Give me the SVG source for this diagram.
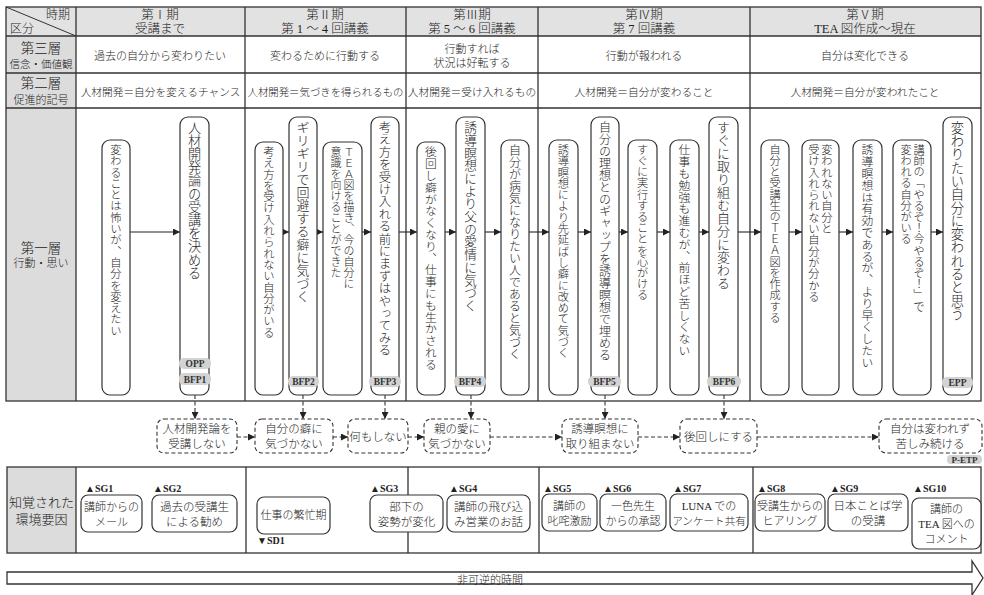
<svg xmlns="http://www.w3.org/2000/svg" width="984" height="595" viewBox="0 0 984 595">
<defs>
<marker id="ah" markerWidth="7" markerHeight="7" refX="7" refY="3.5" orient="auto" markerUnits="userSpaceOnUse"><path d="M0,0 L7,3.5 L0,7 z" fill="#222"/></marker>
<style>
.ln{stroke:#333;stroke-width:1.3;fill:none}
.thin{stroke:#333;stroke-width:1;fill:none}
.t{font-family:"Liberation Serif","Noto Sans CJK JP",serif;fill:#1e1e1e;font-size:11px;font-weight:300}
.c{text-anchor:middle}
.v{writing-mode:vertical-rl;font-family:"Noto Sans CJK JP",sans-serif;fill:#1e1e1e;font-size:11.3px;font-weight:300}
.vb{fill:#fff;stroke:#333;stroke-width:1.2}
.pill{fill:#d3d3d3}
.pt{font-family:"Liberation Serif",serif;font-weight:bold;font-size:9.5px;fill:#333;text-anchor:middle}
.sg{font-family:"Liberation Serif","DejaVu Sans",serif;font-weight:bold;font-size:10px;fill:#222}
.db{fill:#fff;stroke:#333;stroke-width:1.1;stroke-dasharray:4,2.5}
.da{stroke:#333;stroke-width:1.1;fill:none;stroke-dasharray:4,2.5}
.sa{stroke:#222;stroke-width:1.1;fill:none}
</style>
</defs>
<rect width="984" height="595" fill="#fff"/>

<g id="table">
<rect x="6" y="7" width="975" height="29" fill="#e2e2e2"/>
<rect x="6" y="36" width="70" height="365" fill="#dcdcdc"/>
<rect x="6" y="7" width="975" height="394" class="ln"/>
<path class="ln" d="M6,36H981M6,73H981M6,108H981M76,7V401M245,7V401M406,7V401M538,7V401M750,7V401"/>
<path class="thin" d="M6,7L76,36"/>
<text class="t" x="70" y="19" text-anchor="end" style="font-size:12px">時期</text>
<text class="t" x="10" y="33" style="font-size:12px">区分</text>
<text class="t c" x="160" y="19" style="font-size:12.5px">第Ⅰ期</text>
<text class="t c" x="160" y="33" style="font-size:12.5px">受講まで</text>
<text class="t c" x="325" y="19" style="font-size:12.5px">第Ⅱ期</text>
<text class="t c" x="325" y="33" style="font-size:12.5px">第 1 〜 4 回講義</text>
<text class="t c" x="472" y="19" style="font-size:12.5px">第Ⅲ期</text>
<text class="t c" x="472" y="33" style="font-size:12.5px">第 5 〜 6 回講義</text>
<text class="t c" x="644" y="19" style="font-size:12.5px">第Ⅳ期</text>
<text class="t c" x="644" y="33" style="font-size:12.5px">第 7 回講義</text>
<text class="t c" x="865" y="19" style="font-size:12.5px">第Ⅴ期</text>
<text class="t c" x="865" y="33" style="font-size:12.5px">TEA 図作成〜現在</text>
<text class="t c" x="41" y="53" style="font-size:13.5px">第三層</text>
<text class="t c" x="41" y="68" style="font-size:10.5px">信念・価値観</text>
<text class="t c" x="41" y="88" style="font-size:13.5px">第二層</text>
<text class="t c" x="41" y="104" style="font-size:11px">促進的記号</text>
<text class="t c" x="41" y="253" style="font-size:13.5px">第一層</text>
<text class="t c" x="41" y="267" style="font-size:11px">行動・思い</text>
<text class="t c" x="160" y="60">過去の自分から変わりたい</text>
<text class="t c" x="325" y="60">変わるために行動する</text>
<text class="t c" x="472" y="53">行動すれば</text>
<text class="t c" x="472" y="67">状況は好転する</text>
<text class="t c" x="644" y="60">行動が報われる</text>
<text class="t c" x="865" y="60">自分は変化できる</text>
<text class="t c" x="160.5" y="96" style="font-size:10.7px">人材開発＝自分を変えるチャンス</text>
<text class="t c" x="325.5" y="96" style="font-size:10.4px">人材開発＝気づきを得られるもの</text>
<text class="t c" x="472" y="96" style="font-size:10.7px">人材開発＝受け入れるもの</text>
<text class="t c" x="644" y="96" style="font-size:10.7px">人材開発＝自分が変わること</text>
<text class="t c" x="865" y="96" style="font-size:10.7px">人材開発＝自分が変われたこと</text>
</g>

<g id="connectors">
<path class="sa" marker-end="url(#ah)" d="M130,232H180"/>
<path class="sa" marker-end="url(#ah)" d="M283,232H289"/>
<path class="sa" marker-end="url(#ah)" d="M317,232H323"/>
<path class="sa" marker-end="url(#ah)" d="M362,232H371"/>
<path class="sa" marker-end="url(#ah)" d="M399,232H417"/>
<path class="sa" marker-end="url(#ah)" d="M445,232H456"/>
<path class="sa" marker-end="url(#ah)" d="M485,232H501"/>
<path class="sa" marker-end="url(#ah)" d="M529,232H549"/>
<path class="sa" marker-end="url(#ah)" d="M578,232H591"/>
<path class="sa" marker-end="url(#ah)" d="M619,232H628"/>
<path class="sa" marker-end="url(#ah)" d="M657,232H670"/>
<path class="sa" marker-end="url(#ah)" d="M699,232H709"/>
<path class="sa" marker-end="url(#ah)" d="M738,232H761"/>
<path class="sa" marker-end="url(#ah)" d="M789,232H802"/>
<path class="sa" marker-end="url(#ah)" d="M839,232H853"/>
<path class="sa" marker-end="url(#ah)" d="M882,232H893"/>
<path class="sa" marker-end="url(#ah)" d="M931,232H943"/>
<path class="da" marker-end="url(#ah)" d="M195,395V419"/>
<path class="da" marker-end="url(#ah)" d="M303,395V419"/>
<path class="da" marker-end="url(#ah)" d="M385,395V419"/>
<path class="da" marker-end="url(#ah)" d="M471,395V419"/>
<path class="da" marker-end="url(#ah)" d="M605,395V419"/>
<path class="da" marker-end="url(#ah)" d="M724,395V419"/>
<path class="da" marker-end="url(#ah)" d="M237,437H255"/>
<path class="da" marker-end="url(#ah)" d="M333,437H348"/>
<path class="da" marker-end="url(#ah)" d="M408,437H424"/>
<path class="da" marker-end="url(#ah)" d="M490,437H562"/>
<path class="da" marker-end="url(#ah)" d="M638,437H680"/>
<path class="da" marker-end="url(#ah)" d="M757,437H879"/>
</g>

<g id="n1"><rect class="vb" x="102" y="140" width="28" height="255" rx="8"/><text class="v" x="116" y="144">変わることは怖いが、自分を変えたい</text></g>
<g id="n2"><rect class="vb" x="180" y="117" width="29" height="278" rx="8"/><text class="v" x="194.5" y="121" style="font-size:13.2px">人材開発論の受講を決める</text>
<rect class="pill" x="179" y="358" width="32" height="11" rx="5"/><text class="pt" x="195" y="366.5">OPP</text>
<rect class="pill" x="179" y="373" width="32" height="12" rx="5"/><text class="pt" x="195" y="382.5">BFP1</text></g>
<g id="n3"><rect class="vb" x="255" y="142" width="28" height="253" rx="8"/><text class="v" x="269" y="146">考え方を受け入れられない自分がいる</text></g>
<g id="n4"><rect class="vb" x="289" y="117" width="28" height="278" rx="8"/><text class="v" x="303" y="121" style="font-size:13px">ギリギリで回避する癖に気づく</text>
<rect class="pill" x="288" y="376" width="31" height="11" rx="5"/><text class="pt" x="303.5" y="384.5">BFP2</text></g>
<g id="n5"><rect class="vb" x="323" y="142" width="39" height="253" rx="8"/><text class="v" x="349" y="146" style="font-size:11px">ＴＥＡ図を描き、今の自分に</text><text class="v" x="336" y="146" style="font-size:11px">意識を向けることができた</text></g>
<g id="n6"><rect class="vb" x="371" y="117" width="28" height="278" rx="8"/><text class="v" x="385" y="121" style="font-size:12.4px">考え方を受け入れる前にまずはやってみる</text>
<rect class="pill" x="369" y="376" width="32" height="11" rx="5"/><text class="pt" x="385" y="384.5">BFP3</text></g>
<g id="n7"><rect class="vb" x="417" y="142" width="28" height="253" rx="8"/><text class="v" x="431" y="146" style="font-size:11.8px">後回し癖がなくなり、仕事にも生かされる</text></g>
<g id="n8"><rect class="vb" x="456" y="117" width="29" height="278" rx="8"/><text class="v" x="470.5" y="121" style="font-size:12.7px">誘導瞑想により父の愛情に気づく</text>
<rect class="pill" x="454" y="376" width="32" height="11" rx="5"/><text class="pt" x="470" y="384.5">BFP4</text></g>
<g id="n9"><rect class="vb" x="501" y="140" width="28" height="255" rx="8"/><text class="v" x="515" y="144" style="font-size:12px">自分が病気になりたい人であると気づく</text></g>
<g id="n10"><rect class="vb" x="549" y="140" width="29" height="255" rx="8"/><text class="v" x="563.5" y="144">誘導瞑想により先延ばし癖に改めて気づく</text></g>
<g id="n11"><rect class="vb" x="591" y="117" width="28" height="278" rx="8"/><text class="v" x="605" y="121" style="font-size:12px">自分の理想とのギャップを誘導瞑想で埋める</text>
<rect class="pill" x="588" y="376" width="33" height="11" rx="5"/><text class="pt" x="604.5" y="384.5">BFP5</text></g>
<g id="n12"><rect class="vb" x="628" y="140" width="29" height="255" rx="8"/><text class="v" x="642.5" y="144" style="font-size:11.2px">すぐに実行することを心がける</text></g>
<g id="n13"><rect class="vb" x="670" y="140" width="29" height="255" rx="8"/><text class="v" x="684.5" y="144" style="font-size:11.8px">仕事も勉強も進むが、前ほど苦しくない</text></g>
<g id="n14"><rect class="vb" x="709" y="117" width="29" height="278" rx="8"/><text class="v" x="723.5" y="121" style="font-size:13px">すぐに取り組む自分に変わる</text>
<rect class="pill" x="707" y="376" width="34" height="11" rx="5"/><text class="pt" x="724" y="384.5">BFP6</text></g>
<g id="n15"><rect class="vb" x="761" y="140" width="28" height="255" rx="8"/><text class="v" x="775" y="144" style="font-size:11.2px">自分と受講生のＴＥＡ図を作成する</text></g>
<g id="n16"><rect class="vb" x="802" y="140" width="37" height="255" rx="8"/><text class="v" x="827" y="144">変われない自分と</text><text class="v" x="814" y="144">受け入れられない自分が分かる</text></g>
<g id="n17"><rect class="vb" x="853" y="140" width="29" height="255" rx="8"/><text class="v" x="867.5" y="144" style="font-size:11.8px">誘導瞑想は有効であるが、より早くしたい</text></g>
<g id="n18"><rect class="vb" x="893" y="140" width="38" height="255" rx="8"/><text class="v" x="919" y="144" style="font-size:11.2px">講師の「やるぞ！今やるぞ！」で</text><text class="v" x="906" y="144" style="font-size:11.2px">変われる自分がいる</text></g>
<g id="n19"><rect class="vb" x="943" y="117" width="29" height="278" rx="8"/><text class="v" x="957.5" y="121" style="font-size:13.3px">変わりたい自分に変われると思う</text>
<rect class="pill" x="942" y="377" width="31" height="11" rx="5"/><text class="pt" x="957.5" y="385.5">EPP</text></g>

<g id="d1"><rect class="db" x="157" y="419" width="80" height="34" rx="7"/><text class="t c" x="197" y="433" style="font-size:11.5px">人材開発論を</text><text class="t c" x="197" y="448" style="font-size:11.5px">受講しない</text></g>
<g id="d2"><rect class="db" x="255" y="419" width="78" height="34" rx="7"/><text class="t c" x="294" y="433" style="font-size:11.5px">自分の癖に</text><text class="t c" x="294" y="448" style="font-size:11.5px">気づかない</text></g>
<g id="d3"><rect class="db" x="348" y="419" width="60" height="34" rx="7"/><text class="t c" x="378" y="441" style="font-size:11.5px">何もしない</text></g>
<g id="d4"><rect class="db" x="424" y="419" width="66" height="34" rx="7"/><text class="t c" x="457" y="433" style="font-size:11.5px">親の愛に</text><text class="t c" x="457" y="448" style="font-size:11.5px">気づかない</text></g>
<g id="d5"><rect class="db" x="562" y="419" width="76" height="34" rx="7"/><text class="t c" x="600" y="433" style="font-size:11.5px">誘導瞑想に</text><text class="t c" x="600" y="448" style="font-size:11.5px">取り組まない</text></g>
<g id="d6"><rect class="db" x="680" y="419" width="77" height="34" rx="7"/><text class="t c" x="718.5" y="441" style="font-size:11.5px">後回しにする</text></g>
<g id="d7"><rect class="db" x="879" y="419" width="103" height="34" rx="7"/><text class="t c" x="930" y="433" style="font-size:11.5px">自分は変われず</text><text class="t c" x="930" y="448" style="font-size:11.5px">苦しみ続ける</text>
<rect class="pill" x="947" y="455" width="35" height="9" rx="4"/><text class="pt" x="964.5" y="462.5" style="font-size:9px">P-ETP</text></g>

<g id="envtable">
<rect x="7" y="467" width="69" height="86" fill="#dcdcdc"/>
<rect x="7" y="467" width="974" height="86" class="ln"/>
<path class="ln" d="M76,467V553M246,467V553M408,467V553M539,467V553M753,467V553"/>
<text class="t c" x="41.5" y="507" style="font-size:13px">知覚された</text>
<text class="t c" x="41.5" y="524" style="font-size:13px">環境要因</text>
</g>

<g id="e1"><text class="sg" x="85" y="492">▲SG1</text><rect class="vb" x="81" y="495" width="61" height="37" rx="7"/><text class="t c" x="111.5" y="511">講師からの</text><text class="t c" x="111.5" y="526">メール</text></g>
<g id="e2"><text class="sg" x="153" y="492">▲SG2</text><rect class="vb" x="152" y="495" width="85" height="37" rx="7"/><text class="t c" x="194.5" y="511" style="font-size:11.5px">過去の受講生</text><text class="t c" x="194.5" y="526" style="font-size:11.5px">による勧め</text></g>
<g id="e3"><rect class="vb" x="257" y="497" width="73" height="37" rx="7"/><text class="t c" x="293.5" y="519">仕事の繁忙期</text><text class="sg" x="257" y="544">▼SD1</text></g>
<g id="e4"><text class="sg" x="370" y="492">▲SG3</text><rect class="vb" x="370" y="495" width="73" height="37" rx="7"/><text class="t c" x="406.5" y="511" style="font-size:11.5px">部下の</text><text class="t c" x="406.5" y="526" style="font-size:11.5px">姿勢が変化</text></g>
<g id="e5"><text class="sg" x="449" y="492">▲SG4</text><rect class="vb" x="447" y="495" width="83" height="37" rx="7"/><text class="t c" x="488.5" y="511" style="font-size:11.5px">講師の飛び込</text><text class="t c" x="488.5" y="526" style="font-size:11.5px">み営業のお話</text></g>
<g id="e6"><text class="sg" x="543" y="492">▲SG5</text><rect class="vb" x="542" y="494" width="55" height="37" rx="7"/><text class="t c" x="569.5" y="510">講師の</text><text class="t c" x="569.5" y="525">叱咤激励</text></g>
<g id="e7"><text class="sg" x="603" y="492">▲SG6</text><rect class="vb" x="600" y="494" width="66" height="37" rx="7"/><text class="t c" x="633" y="510">一色先生</text><text class="t c" x="633" y="525">からの承認</text></g>
<g id="e8"><text class="sg" x="673" y="492">▲SG7</text><rect class="vb" x="670" y="494" width="78" height="37" rx="7"/><text class="t c" x="709" y="510">LUNA での</text><text class="t c" x="709" y="525" style="font-size:10.6px">アンケート共有</text></g>
<g id="e9"><text class="sg" x="757" y="492">▲SG8</text><rect class="vb" x="755" y="494" width="70" height="37" rx="7"/><text class="t c" x="790" y="510">受講生からの</text><text class="t c" x="790" y="525">ヒアリング</text></g>
<g id="e10"><text class="sg" x="830" y="492">▲SG9</text><rect class="vb" x="828" y="494" width="80" height="37" rx="7"/><text class="t c" x="868" y="510" style="font-size:11.5px">日本ことば学</text><text class="t c" x="868" y="525" style="font-size:11.5px">の受講</text></g>
<g id="e11"><text class="sg" x="913" y="492">▲SG10</text><rect class="vb" x="912" y="498" width="69" height="51" rx="7"/><text class="t c" x="946.5" y="513">講師の</text><text class="t c" x="946.5" y="528">TEA 図への</text><text class="t c" x="946.5" y="543">コメント</text></g>

<g id="timearrow">
<polygon class="ln" points="7,572 972,572 972,561 983,578 972,595 972,584 7,584"/>
<text class="t c" x="490" y="583.5">非可逆的時間</text>
</g>
</svg>
